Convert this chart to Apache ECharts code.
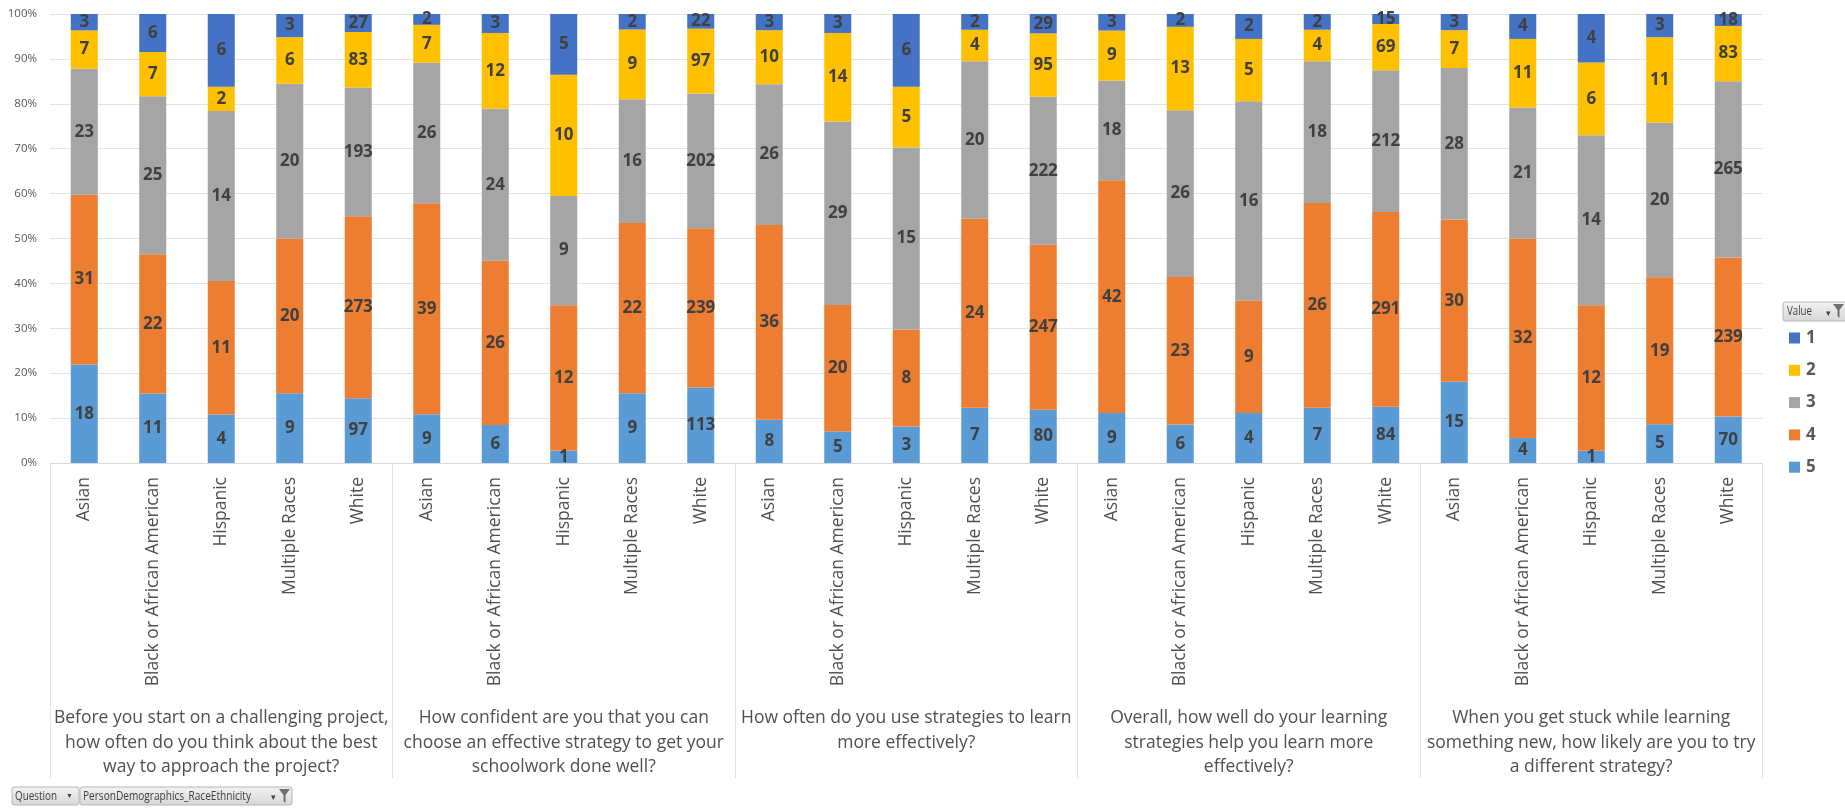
<!DOCTYPE html>
<html>
<head>
<meta charset="utf-8">
<script src="https://cdn.jsdelivr.net/npm/echarts@6/dist/echarts.min.js"></script>
<style>
html,body{margin:0;padding:0;background:#fff;}
#chart{width:1845px;height:809px;}
</style>
</head>
<body>
<div id="chart"></div>
<script>
// ---- Data ----
const questions = [
  "Before you start on a challenging project,\nhow often do you think about the best\nway to approach the project?",
  "How confident are you that you can\nchoose an effective strategy to get your\nschoolwork done well?",
  "How often do you use strategies to learn\nmore effectively?",
  "Overall, how well do your learning\nstrategies help you learn more\neffectively?",
  "When you get stuck while learning\nsomething new, how likely are you to try\na different strategy?"
];
const races = ["Asian", "Black or African American", "Hispanic", "Multiple Races", "White"];
const responseValues = ["1", "2", "3", "4", "5"];
const yTicks = [0, 0.1, 0.2, 0.3, 0.4, 0.5, 0.6, 0.7, 0.8, 0.9, 1];

// counts per response value, ordered question by question, race by race
const value1 = [3, 6, 6, 3, 27,   2, 3, 5, 2, 22,    3, 3, 6, 2, 29,    3, 2, 2, 2, 15,    3, 4, 4, 3, 18];
const value2 = [7, 7, 2, 6, 83,   7, 12, 10, 9, 97,  10, 14, 5, 4, 95,  9, 13, 5, 4, 69,   7, 11, 6, 11, 83];
const value3 = [23, 25, 14, 20, 193, 26, 24, 9, 16, 202, 26, 29, 15, 20, 222, 18, 26, 16, 18, 212, 28, 21, 14, 20, 265];
const value4 = [31, 22, 11, 20, 273, 39, 26, 12, 22, 239, 36, 20, 8, 24, 247, 42, 23, 9, 26, 291, 30, 32, 12, 19, 239];
const value5 = [18, 11, 4, 9, 97,  9, 6, 1, 9, 113,  8, 5, 3, 7, 80,   9, 6, 4, 7, 84,   15, 4, 1, 5, 70];

const colors = { "1": "#4472C4", "2": "#FFC000", "3": "#A5A5A5", "4": "#ED7D31", "5": "#5B9BD5" };

// ---- Build ----
const categories = [];
questions.forEach(() => races.forEach(r => categories.push(r)));
const countsByValue = { "1": value1, "2": value2, "3": value3, "4": value4, "5": value5 };
const totals = value1.map((_, i) => value1[i] + value2[i] + value3[i] + value4[i] + value5[i]);

const stackOrder = ["5", "4", "3", "2", "1"]; // bottom to top
const series = stackOrder.map(v => {
  const counts = countsByValue[v];
  return {
    name: v,
    type: 'bar',
    stack: 'total',
    xAxisIndex: 0,
    barWidth: 27,
    itemStyle: { color: colors[v] },
    label: {
      show: true,
      position: 'inside',
      fontFamily: 'Open Sans',
      fontWeight: 'bold',
      fontSize: 17,
      color: '#404040',
      formatter: p => String(counts[p.dataIndex])
    },
    data: counts.map((c, i) => c / totals[i])
  };
});

const chart = echarts.init(document.getElementById('chart'), null, { renderer: 'canvas' });

const measureCtx = document.createElement('canvas').getContext('2d');
function fitText(text, x, y, targetWidth, fontSize) {
  measureCtx.font = fontSize + 'px "Open Sans"';
  const w = measureCtx.measureText(text).width || targetWidth;
  return {
    type: 'text', x: x, y: y, scaleX: targetWidth / w,
    style: { text: text, fontFamily: 'Open Sans', fontSize: fontSize, fill: '#404040', verticalAlign: 'middle' }
  };
}
function button(x, y, w, h, parts) {
  const els = [{
    type: 'rect',
    shape: { x: x, y: y, width: w, height: h, r: 2 },
    style: {
      fill: new echarts.graphic.LinearGradient(0, 0, 0, 1, [
        { offset: 0, color: '#f3f3f3' }, { offset: 1, color: '#d6d6d6' }
      ]),
      stroke: '#b8b8b8', lineWidth: 1
    }
  }];
  return els.concat(parts);
}
function funnel(x, y) {
  return {
    type: 'polygon',
    shape: { points: [[x, y], [x + 11, y], [x + 6.5, y + 6], [x + 6.5, y + 14], [x + 4.5, y + 12], [x + 4.5, y + 6]] },
    style: { fill: '#6f6f6f' }
  };
}

const graphics = []
  .concat(button(12, 787, 67, 18, [
    fitText('Question', 15, 796, 42, 13),
    { type: 'text', x: 66, y: 796, style: { text: '▼', fontSize: 7, fill: '#404040', verticalAlign: 'middle' } }
  ]))
  .concat(button(80, 787, 212, 18, [
    fitText('PersonDemographics_RaceEthnicity', 83, 796, 168, 13),
    { type: 'text', x: 271, y: 798, style: { text: '▾', fontSize: 9, fill: '#404040', verticalAlign: 'middle' } },
    funnel(279, 789)
  ]))
  .concat(button(1783, 302, 70, 19, [
    fitText('Value', 1787, 311.5, 25, 13),
    { type: 'text', x: 1826, y: 313.5, style: { text: '▾', fontSize: 9, fill: '#404040', verticalAlign: 'middle' } },
    funnel(1833, 304)
  ]));

chart.setOption({
  animation: false,
  backgroundColor: '#ffffff',
  grid: { left: 50, right: 82.5, top: 14, bottom: 346, containLabel: false },
  legend: {
    data: responseValues,
    orient: 'vertical',
    left: 1789,
    top: 329.5,
    padding: 0,
    itemWidth: 11,
    itemHeight: 11,
    itemGap: 15.3,
    icon: 'rect',
    textStyle: { fontFamily: 'Open Sans', fontSize: 17, fontWeight: 'bold', color: '#595959', lineHeight: 17, padding: [0, 0, 0, 1] }
  },
  xAxis: [
    {
      type: 'category',
      data: categories,
      position: 'bottom',
      axisLine: { show: true, lineStyle: { color: '#D9D9D9', width: 1 } },
      axisTick: { show: false },
      axisLabel: {
        interval: 0,
        rotate: 90,
        margin: 14,
        fontFamily: 'Open Sans',
        fontSize: 17.5,
        color: '#505050'
      },
      splitLine: { show: false }
    },
    {
      type: 'category',
      data: questions,
      position: 'bottom',
      gridIndex: 0,
      axisLine: { show: false },
      axisTick: { show: true, interval: 0, length: 315, lineStyle: { color: '#E3E3E3', width: 1 } },
      axisLabel: {
        interval: 0,
        margin: 243,
        fontFamily: 'Open Sans',
        fontSize: 17.5,
        lineHeight: 24.5,
        color: '#505050',
        align: 'center'
      },
      splitLine: { show: false }
    }
  ],
  yAxis: {
    type: 'value',
    min: yTicks[0],
    max: yTicks[yTicks.length - 1],
    interval: yTicks[1] - yTicks[0],
    axisLine: { show: false },
    axisTick: { show: false },
    axisLabel: {
      margin: 13,
      fontFamily: 'Open Sans',
      fontSize: 11.5,
      color: '#595959',
      formatter: v => Math.round(v * 100) + '%'
    },
    splitLine: { show: true, lineStyle: { color: '#E3E3E3', width: 1 } }
  },
  series: series,
  graphic: graphics
});
</script>
</body>
</html>
